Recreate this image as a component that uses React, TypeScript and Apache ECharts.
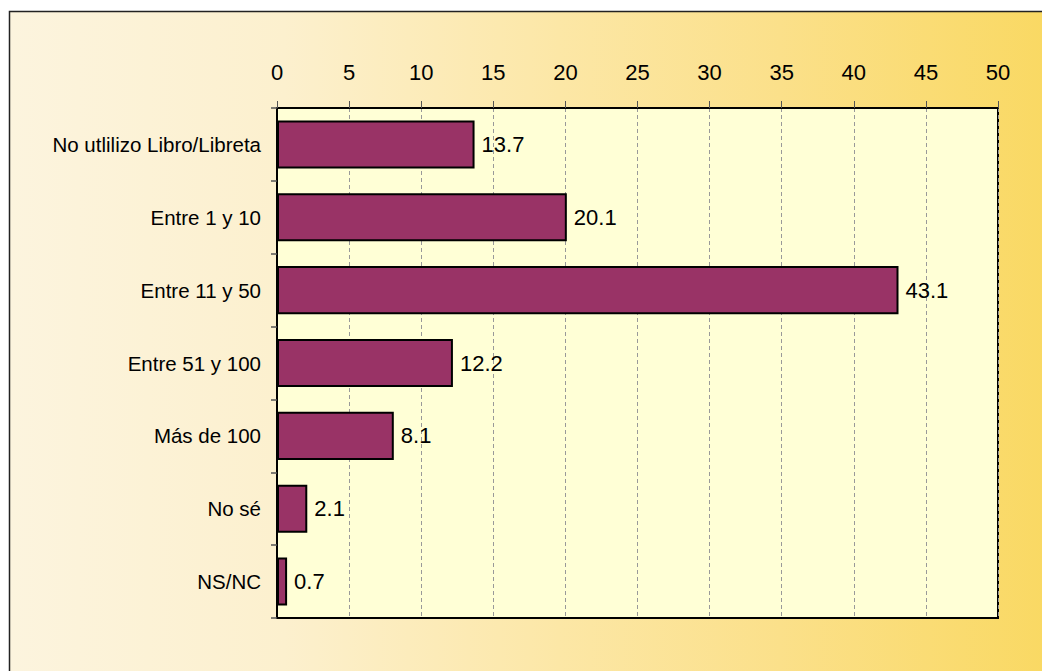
import React, { useEffect, useRef } from "react";
import * as echarts from "echarts";

const categories = [
  "No utlilizo Libro/Libreta",
  "Entre 1 y 10",
  "Entre 11 y 50",
  "Entre 51 y 100",
  "Más de 100",
  "No sé",
  "NS/NC",
];
const values = [13.7, 20.1, 43.1, 12.2, 8.1, 2.1, 0.7];
const axisMin = 0;
const axisMax = 50;
const axisStep = 5;

export default function App() {
  const ref = useRef<HTMLDivElement>(null);
  useEffect(() => {
    if (!ref.current) return;
    const chart = echarts.init(ref.current, null, { renderer: "svg" });
    const font = "'Liberation Sans', Arial, sans-serif";
    chart.setOption({
      animation: false,
      graphic: [
        {
          type: "rect",
          z: -10,
          silent: true,
          shape: { x: 9.5, y: 11.5, width: 1100, height: 700 },
          style: {
            fill: new echarts.graphic.LinearGradient(0, 0, 1, 0, [
              { offset: 0, color: "#FCF4DE" },
              { offset: 0.25, color: "#FCF0CE" },
              { offset: 0.5, color: "#FCE7A6" },
              { offset: 0.7, color: "#FBE08A" },
              { offset: 1, color: "#F9D75A" },
            ]),
            stroke: "#222",
            lineWidth: 1.5,
          },
        },
      ],
      grid: {
        left: 277,
        right: 44,
        top: 108,
        bottom: 53,
        show: true,
        backgroundColor: "#FFFFD6",
        borderColor: "#000",
        borderWidth: 2,
      },
      xAxis: {
        type: "value",
        position: "top",
        min: axisMin,
        max: axisMax,
        interval: axisStep,
        axisLine: { show: true, lineStyle: { color: "#000", width: 2 } },
        axisTick: { show: true, length: 7, lineStyle: { color: "#555", width: 1 } },
        axisLabel: { color: "#000", fontSize: 22, fontFamily: font, margin: 25 },
        splitLine: { show: true, lineStyle: { color: "#999", type: [4, 3], width: 1 } },
      },
      yAxis: {
        type: "category",
        data: categories,
        inverse: true,
        axisLine: { show: true, lineStyle: { color: "#000", width: 2 } },
        axisTick: { show: true, length: 6, alignWithLabel: false, lineStyle: { color: "#555", width: 1.5 } },
        axisLabel: { color: "#000", fontSize: 20.5, fontFamily: font, margin: 16 },
        splitLine: { show: false },
      },
      series: [
        {
          type: "bar",
          data: values,
          barWidth: "66%",
          itemStyle: { color: "#993366", borderColor: "#000", borderWidth: 2 },
          label: {
            show: true,
            position: "right",
            distance: 7,
            color: "#000",
            fontSize: 22,
            fontFamily: font,
            formatter: (p: any) => Number(p.value).toFixed(1),
          },
        },
      ],
    });
    return () => chart.dispose();
  }, []);
  return (
    <div
      ref={ref}
      style={{ position: "absolute", left: 0, top: 0, width: 1042, height: 671 }}
    />
  );
}
